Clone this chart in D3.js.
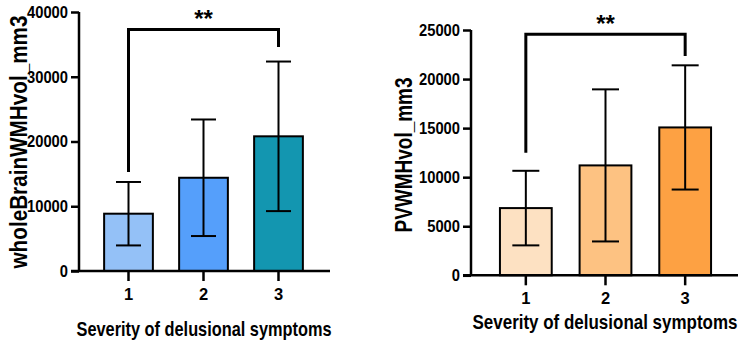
<!DOCTYPE html>
<html>
<head>
<meta charset="utf-8">
<script src="https://cdn.jsdelivr.net/npm/d3@7"></script>
<style>
    body { margin: 0; background: #fff; }
    svg text { font-family: "Liberation Sans", Arial, sans-serif; font-weight: bold; fill: #000; }
    .tick-label { font-size: 16.5px; }
    .axes-label { font-size: 21px; }
    .stars { font-size: 24px; }
</style>
</head>
<body>
<div id="chart"></div>
<script>
// data
const severity = ['1', '2', '3'];
const wholeBrainMean = [8850, 14400, 20800];
const wholeBrainSD = [4900, 9000, 11550];
const wholeBrainTicks = [0, 10000, 20000, 30000, 40000];
const wholeBrainBracket = [37300, 15300, 34600]; // bar height, left leg end, right leg end

const pvMean = [6850, 11200, 15070];
const pvSD = [3800, 7750, 6330];
const pvTicks = [0, 5000, 10000, 15000, 20000, 25000];
const pvBracket = [24560, 12500, 22350];

const blueColors = ['#94c1f7', '#559ffb', '#1396b0'];
const orangeColors = ['#fde1c2', '#fdc282', '#fda143'];

let svg = d3.select('#chart')
    .append('svg')
    .attr('width', 744)
    .attr('height', 346);

// the figure uses a condensed bold face, squeeze the text to its width
function condense(sel, width) {
    sel.attr('textLength', width).attr('lengthAdjust', 'spacingAndGlyphs');
}

// draws one bar chart with error bars and a significance bracket
function barChart(opts) {
    let g = svg.append('g'),
        rows = severity.map((s, i) => ({s: s, mean: opts.mean[i], sd: opts.sd[i], color: opts.colors[i]}));

    let xScale = d3.scaleBand()
            .domain(severity)
            .range(opts.xRange)
            .paddingInner(0.35)
            .paddingOuter(0.175),
        yScale = d3.scaleLinear()
            .domain([0, d3.max(opts.ticks)])
            .range(opts.yRange),
        cx = d => xScale(d) + xScale.bandwidth() / 2,
        y0 = yScale(0);

    // bars
    g.selectAll('rect.bar')
        .data(rows).enter()
        .append('rect')
        .attr('x', d => xScale(d.s))
        .attr('y', d => yScale(d.mean))
        .attr('width', xScale.bandwidth())
        .attr('height', d => y0 - yScale(d.mean))
        .attr('fill', d => d.color)
        .attr('stroke', '#000')
        .attr('stroke-width', 2);

    // error bars (mean +- sd)
    let err = g.selectAll('g.err')
        .data(rows).enter()
        .append('g')
        .attr('stroke', '#000')
        .attr('stroke-width', 2);
    err.append('line')
        .attr('x1', d => cx(d.s)).attr('x2', d => cx(d.s))
        .attr('y1', d => yScale(d.mean + d.sd))
        .attr('y2', d => yScale(d.mean - d.sd));
    [1, -1].forEach(sign => {
        err.append('line')
            .attr('x1', d => cx(d.s) - opts.cap / 2)
            .attr('x2', d => cx(d.s) + opts.cap / 2)
            .attr('y1', d => yScale(d.mean + sign * d.sd))
            .attr('y2', d => yScale(d.mean + sign * d.sd));
    });

    // y axis
    let yAxis = g.append('g')
        .attr('transform', `translate(${opts.axisX},0)`)
        .call(d3.axisLeft(yScale).tickValues(opts.ticks).tickSize(8).tickPadding(3).tickFormat(d3.format('d')));
    yAxis.select('.domain').attr('stroke-width', 2.5).attr('d', `M0,${yScale.range()[1]}V${y0}`);
    yAxis.selectAll('.tick line').attr('stroke-width', 2.5);
    yAxis.selectAll('.tick text')
        .attr('class', 'tick-label').attr('font-family', null).attr('font-size', null)
        .each(function () { condense(d3.select(this), this.textContent.length * 8.2); });

    // x axis
    let xAxis = g.append('g')
        .attr('transform', `translate(0,${y0})`)
        .call(d3.axisBottom(xScale).tickSize(10).tickPadding(7));
    xAxis.select('.domain').attr('stroke-width', 2.5).attr('d', `M${opts.axisX - 8},0H${opts.xEnd}`);
    xAxis.selectAll('.tick line').attr('stroke-width', 2.5);
    xAxis.selectAll('.tick text').attr('class', 'tick-label').attr('font-family', null).attr('font-size', null);

    // x axis title
    g.append('text')
        .classed('axes-label', true)
        .attr('x', opts.titleX)
        .attr('y', opts.titleY)
        .attr('text-anchor', 'middle')
        .text('Severity of delusional symptoms')
        .call(condense, opts.titleWidth);

    // y axis title
    g.append('text')
        .classed('axes-label', true)
        .style('font-size', '24px')
        .attr('transform', `translate(${opts.yLabelX},${opts.yLabelY}) rotate(-90)`)
        .attr('text-anchor', 'middle')
        .text(opts.yLabel)
        .call(condense, opts.yLabelWidth);

    // significance bracket between group 1 and group 3
    let bx1 = cx('1'), bx3 = cx('3'), by = yScale(opts.bracket[0]);
    g.append('path')
        .attr('d', `M${bx1},${yScale(opts.bracket[1])}V${by}H${bx3}V${yScale(opts.bracket[2])}`)
        .attr('fill', 'none')
        .attr('stroke', '#000')
        .attr('stroke-width', 3);
    g.append('text')
        .classed('stars', true)
        .attr('x', (bx1 + bx3) / 2)
        .attr('y', by - opts.starGap)
        .attr('text-anchor', 'middle')
        .text('**');
}

barChart({
    mean: wholeBrainMean, sd: wholeBrainSD, colors: blueColors, ticks: wholeBrainTicks,
    bracket: wholeBrainBracket, yLabel: 'wholeBrainWMHvol_mm3', yLabelWidth: 253,
    xRange: [91, 316], yRange: [271, 12], axisX: 79, xEnd: 330, cap: 25,
    titleX: 204, titleY: 336, titleWidth: 255, yLabelX: 27, yLabelY: 142, starGap: 2
});

barChart({
    mean: pvMean, sd: pvSD, colors: orangeColors, ticks: pvTicks,
    bracket: pvBracket, yLabel: 'PVWMHvol_mm3', yLabelWidth: 155,
    xRange: [486, 725], yRange: [275.3, 30], axisX: 471, xEnd: 738, cap: 27,
    titleX: 605, titleY: 329, titleWidth: 265, yLabelX: 412, yLabelY: 155, starGap: 2
});
</script>
</body>
</html>
